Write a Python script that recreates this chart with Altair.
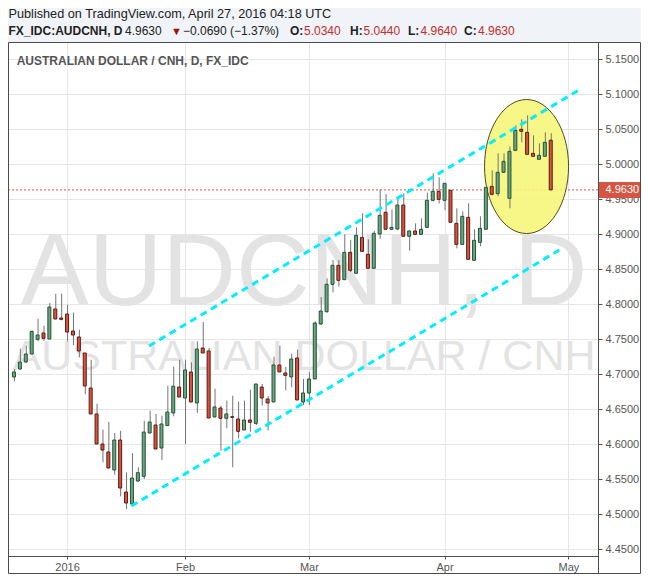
import altair as alt
import pandas as pd

# ---- daily bars (index 0 = 21 Dec 2015 ... 91 = 27 Apr 2016)
opens = [4.6957, 4.7071, 4.7171, 4.7286, 4.7495, 4.7586, 4.7500, 4.7929, 4.7800, 4.7857,
         4.7614, 4.7529, 4.7300, 4.6800, 4.6429, 4.6000, 4.5886, 4.5629, 4.6057, 4.5314,
         4.5143, 4.5471, 4.5538, 4.6157, 4.6271, 4.5943, 4.6262, 4.6443, 4.6814, 4.6657,
         4.7029, 4.6586, 4.7371, 4.7329, 4.6386, 4.6514, 4.6367, 4.6390, 4.6357, 4.6200,
         4.6343, 4.6295, 4.6814, 4.6643, 4.6600, 4.7129, 4.7014, 4.6957, 4.7229, 4.6600,
         4.6729, 4.6929, 4.7714, 4.7890, 4.8281, 4.8552, 4.8348, 4.8738, 4.8438, 4.8952,
         4.8710, 4.8510, 4.9000, 4.9310, 4.9067, 4.9071, 4.9414, 4.8967, 4.9043, 4.8995,
         4.9095, 4.9481, 4.9610, 4.9481, 4.9624, 4.9152, 4.8852, 4.9238, 4.8624, 4.8881,
         4.9067, 4.9680, 4.9576, 4.9881, 4.9510, 5.0195, 5.0495, 5.0452, 5.0152, 5.0067,
         5.0110, 5.0340]
highs = [4.7071, 4.7362, 4.7405, 4.7620, 4.7790, 4.7690, 4.8014, 4.8148, 4.8148, 4.7990,
         4.7876, 4.7633, 4.7300, 4.7205, 4.6576, 4.6205, 4.6314, 4.6157, 4.6190, 4.5595,
         4.5871, 4.5667, 4.6333, 4.6476, 4.6429, 4.6405, 4.6833, 4.7105, 4.7205, 4.7205,
         4.7167, 4.7467, 4.7743, 4.7371, 4.6790, 4.6548, 4.6619, 4.6690, 4.6605, 4.6619,
         4.6776, 4.6862, 4.6857, 4.6686, 4.7248, 4.7405, 4.7100, 4.7290, 4.7348, 4.6929,
         4.7029, 4.7752, 4.8100, 4.8367, 4.8629, 4.8629, 4.8995, 4.8914, 4.9095, 4.9295,
         4.8924, 4.9048, 4.9638, 4.9571, 4.9352, 4.9510, 4.9581, 4.9050, 4.9152, 4.9224,
         4.9590, 4.9867, 4.9810, 4.9724, 4.9630, 4.9367, 4.9324, 4.9438, 4.9067, 4.9252,
         4.9670, 4.9910, 5.0152, 5.0152, 5.0252, 5.0552, 5.0638, 5.0695, 5.0410, 5.0295,
         5.0452, 5.0440]
lows = [4.6895, 4.7060, 4.7160, 4.7280, 4.7467, 4.7476, 4.7500, 4.7780, 4.7767, 4.7467,
        4.7414, 4.7238, 4.6710, 4.6429, 4.6000, 4.5738, 4.5650, 4.5562, 4.5252, 4.5071,
        4.5120, 4.5460, 4.5500, 4.6150, 4.5925, 4.5771, 4.6260, 4.6395, 4.6670, 4.6000,
        4.6600, 4.6443, 4.7300, 4.6370, 4.6380, 4.5905, 4.6224, 4.5667, 4.6081, 4.6200,
        4.6176, 4.6271, 4.6548, 4.6195, 4.6600, 4.7029, 4.6767, 4.6810, 4.6629, 4.6557,
        4.6557, 4.6929, 4.7700, 4.7876, 4.8167, 4.8248, 4.8340, 4.8457, 4.8438, 4.8750,
        4.8510, 4.8510, 4.8933, 4.9067, 4.9060, 4.9057, 4.8967, 4.8762, 4.8990, 4.8990,
        4.9090, 4.9467, 4.9438, 4.9338, 4.9167, 4.8795, 4.8850, 4.8638, 4.8620, 4.8824,
        4.9067, 4.9552, 4.9538, 4.9880, 4.9367, 5.0190, 5.0310, 5.0138, 5.0110, 5.0067,
        5.0110, 4.9630]
closes = [4.7029, 4.7171, 4.7286, 4.7610, 4.7557, 4.7510, 4.7957, 4.7786, 4.7781, 4.7600,
          4.7557, 4.7329, 4.6829, 4.6429, 4.6000, 4.5914, 4.5657, 4.6057, 4.5371, 4.5157,
          4.5514, 4.5590, 4.6171, 4.6314, 4.5929, 4.6286, 4.6457, 4.6824, 4.6671, 4.7057,
          4.6600, 4.7357, 4.7300, 4.6371, 4.6529, 4.6367, 4.6429, 4.6381, 4.6181, 4.6343,
          4.6310, 4.6857, 4.6657, 4.6586, 4.7129, 4.7029, 4.6981, 4.7214, 4.6629, 4.6729,
          4.6929, 4.7729, 4.7900, 4.8281, 4.8552, 4.8338, 4.8738, 4.8481, 4.8981, 4.8752,
          4.8510, 4.9010, 4.9267, 4.9067, 4.9095, 4.9414, 4.8967, 4.9043, 4.8995, 4.9067,
          4.9481, 4.9610, 4.9495, 4.9724, 4.9167, 4.8852, 4.9252, 4.8638, 4.8910, 4.9081,
          4.9667, 4.9567, 4.9881, 5.0038, 5.0181, 5.0480, 5.0467, 5.0138, 5.0110, 5.0124,
          5.0310, 4.9630]

month_bars = [9, 29, 50, 73, 94]
month_labels = ["2016", "Feb", "Mar", "Apr", "May"]
price_ticks = [4.45, 4.50, 4.55, 4.60, 4.65, 4.70, 4.75, 4.80, 4.85, 4.90,
               4.95, 5.00, 5.05, 5.10, 5.15]

# drawn trend channel (bar index, price) and highlight oval centre
upper_x = [22.9, 95.8]
upper_p = [4.7400, 5.1057]
lower_x = [19.9, 92.45]
lower_p = [4.5114, 4.8771]
oval_x = [86.9]
oval_p = [4.9964]
last_price = [4.9630]

FONT = "Liberation Sans"
UP_FILL, UP_LINE = "#6ba583", "#225437"
DN_FILL, DN_LINE = "#d75442", "#5b1a13"
W, H = 590, 514

df = pd.DataFrame({"bar": list(range(len(opens))), "open": opens, "high": highs,
                   "low": lows, "close": closes})
chan = pd.DataFrame({"cx": upper_x + lower_x, "cp": upper_p + lower_p,
                     "line": ["upper"] * 2 + ["lower"] * 2})
oval = pd.DataFrame({"ox": oval_x, "op": oval_p})
lastdf = pd.DataFrame({"lp": last_price})
one = pd.DataFrame({"k": [0]})

label_expr = " : ".join(f"datum.value == {b} ? '{l}'" for b, l in zip(month_bars, month_labels)) + " : ''"

xscale = alt.Scale(domain=[-1 / 6, 589 / 6], nice=False, zero=False)
yscale = alt.Scale(domain=[4.44, 5.17429], nice=False, zero=False)
xaxis = alt.Axis(orient="bottom", values=month_bars, labelExpr=label_expr, title=None,
                 domain=False, tickSize=3, tickColor="#555555", labelColor="#555555",
                 labelFontSize=11, labelFont=FONT, labelPadding=2, grid=True,
                 gridColor="#e6e6e6", labelFlush=False, labelOverlap=False)
yaxis = alt.Axis(orient="right", values=price_ticks, format=".4f", title=None,
                 domain=False, tickSize=4, tickColor="#555555", labelColor="#555555",
                 labelFontSize=11, labelFont=FONT, labelPadding=3, grid=True,
                 gridColor="#e6e6e6", labelOverlap=False, labelFlush=False)


def X(f):
    return alt.X(f"{f}:Q", scale=xscale, axis=xaxis)


def Y(f):
    return alt.Y(f"{f}:Q", scale=yscale, axis=yaxis)


def txt(s, x, y, size, color, weight="normal", align="left", baseline="alphabetic"):
    return alt.Chart(one).mark_text(text=s, align=align, baseline=baseline, fontSize=size,
                                    color=color, fontWeight=weight, font=FONT).encode(
        x=alt.value(x), y=alt.value(y))


header_bg = alt.Chart(one).mark_rect(color="#f0f3f7").encode(
    x=alt.value(-2), x2=alt.value(640), y=alt.value(-40), y2=alt.value(0))

header = [
    txt("Published on TradingView.com, April 27, 2016 04:18 UTC", 0.5, -24.5, 12.7, "#222222"),
    txt("FX_IDC:AUDCNH, D", 0.5, -7.3, 12, "#222222", "bold"),
    txt("4.9630", 117, -7.3, 12, "#222222"),
    txt("\u25bc", 163, -7.3, 11, "#9b1111"),
    txt("\u22120.0690 (\u22121.37%)", 175, -7.3, 12, "#222222"),
    txt("O:", 282, -7.3, 12, "#222222", "bold"),
    txt("5.0340", 296, -7.3, 12, "#c62d2d"),
    txt("H:", 342, -7.3, 12, "#222222", "bold"),
    txt("5.0440", 355.5, -7.3, 12, "#c62d2d"),
    txt("L:", 400, -7.3, 12, "#222222", "bold"),
    txt("4.9640", 412.5, -7.3, 12, "#c62d2d"),
    txt("C:", 456, -7.3, 12, "#222222", "bold"),
    txt("4.9630", 470, -7.3, 12, "#c62d2d"),
]

title = txt("AUSTRALIAN DOLLAR / CNH, D, FX_IDC", 8.7, 23, 12, "#555555", "bold")
wm_big = txt("AUDCNH, D", 296, 263, 102, "#e3e3e3", align="center")
wm_small = txt("AUSTRALIAN DOLLAR / CNH", 296, 328, 43, "#e3e3e3", align="center")

last_line = alt.Chart(lastdf).mark_rule(color="#d75442", strokeWidth=1, strokeDash=[2, 2]).encode(
    y=Y("lp"), x=alt.value(0), x2=alt.value(W))

a = 42 / 67
k = 0.5523
oval_path = (f"M {a:.3f} 0 C {a:.3f} {k:.3f} {a*k:.3f} 1 0 1 "
             f"C {-a*k:.3f} 1 {-a:.3f} {k:.3f} {-a:.3f} 0 "
             f"C {-a:.3f} {-k:.3f} {-a*k:.3f} -1 0 -1 "
             f"C {a*k:.3f} -1 {a:.3f} {-k:.3f} {a:.3f} 0 Z")
oval_mark = alt.Chart(oval).mark_point(shape=oval_path, size=134 * 134, filled=True,
                                       fill="#f6f67a", fillOpacity=0.9, stroke="#4d4d1a",
                                       strokeWidth=1, opacity=1).encode(x=X("ox"), y=Y("op"))

cd = alt.Chart(df)
wicks = cd.mark_rule(color="#737375", strokeWidth=1, xOffset=0.5).encode(
    x=X("bar"), y=Y("low"), y2="high:Q")
ups = cd.transform_filter("datum.close >= datum.open").mark_bar(
    width=3, fill=UP_FILL, stroke=UP_LINE, strokeWidth=1, opacity=1).encode(
    x=X("bar"), y=Y("open"), y2="close:Q")
downs = cd.transform_filter("datum.close < datum.open").mark_bar(
    width=3, fill=DN_FILL, stroke=DN_LINE, strokeWidth=1, opacity=1).encode(
    x=X("bar"), y=Y("open"), y2="close:Q")

channel = alt.Chart(chan).mark_line(color="#00eeff", strokeWidth=3, strokeDash=[7, 5]).encode(
    x=X("cx"), y=Y("cp"), detail="line:N")

price_box = alt.Chart(lastdf).mark_rect(color="#d75442", yOffset=-8, y2Offset=8).encode(
    y=Y("lp"), y2="lp:Q", x=alt.value(591), x2=alt.value(634))
price_txt = alt.Chart(lastdf).mark_text(text="4.9630", align="left", baseline="middle",
                                        fontSize=11, color="white", font=FONT).encode(
    y=Y("lp"), x=alt.value(597.5))

frame = alt.Chart(one).mark_rect(fillOpacity=0, stroke="#4c4c4c", strokeWidth=1).encode(
    x=alt.value(0.5), x2=alt.value(632.5), y=alt.value(0.5), y2=alt.value(531.5))
axis_v = alt.Chart(one).mark_rule(color="#4c4c4c", strokeWidth=1).encode(
    x=alt.value(590.5), y=alt.value(0), y2=alt.value(532))
axis_h = alt.Chart(one).mark_rule(color="#4c4c4c", strokeWidth=1).encode(
    y=alt.value(514.5), x=alt.value(0), x2=alt.value(591))

chart = alt.layer(
    header_bg, *header, wm_big, wm_small, title, last_line, oval_mark,
    wicks, ups, downs, channel, price_box, price_txt, frame, axis_v, axis_h
).properties(
    width=W, height=H,
    padding={"left": 0, "top": 34, "right": 43, "bottom": 18},
    autosize=alt.AutoSizeParams(type="none"),
    background="white",
).configure_view(strokeWidth=0, fill="white").configure(font=FONT)

chart.save("out.html", embed_options={"renderer": "svg", "actions": False})
